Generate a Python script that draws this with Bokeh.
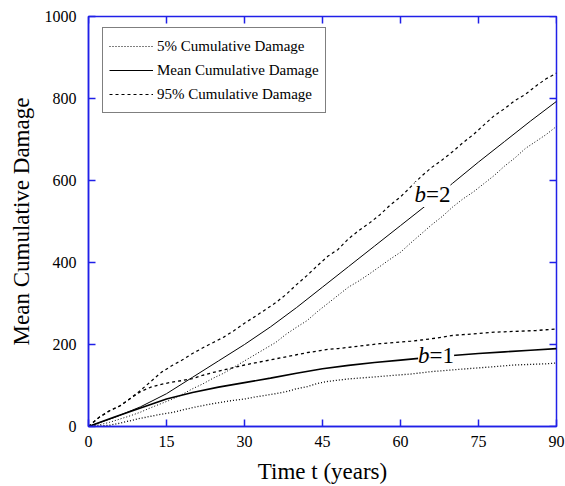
from bokeh.plotting import figure
from bokeh.models import FixedTicker, Range1d, Legend, LegendItem, Label
from bokeh.embed import file_html
from bokeh.resources import INLINE

# ---------------- data ----------------
t_grid = [0, 2, 4, 6, 8, 10, 12, 14, 16, 18, 20, 22, 24, 26, 28, 30, 32, 34, 36, 38,
          40, 42, 44, 46, 48, 50, 52, 54, 56, 58, 60, 62, 64, 66, 68, 70, 72, 74, 76, 78,
          80, 82, 84, 86, 88, 90]
mean_t = [0, 5, 10, 15, 20, 25, 30, 35, 40, 45, 50, 55, 60, 65, 70, 75, 80, 85, 90]

b2_mean = [0, 22, 48, 80, 120, 160, 200, 243, 290, 340, 390, 440, 490, 540, 593, 645, 695, 745, 793]
b2_p95 = [0, 22, 38, 50, 68, 88, 110, 132, 148, 162, 178, 192, 205, 218, 234, 252, 268, 285, 302, 322,
          346, 368, 392, 415, 432, 458, 478, 496, 516, 540, 560, 585, 610, 632, 650, 670, 692, 712, 735, 758,
          775, 795, 810, 830, 848, 862]
b2_p05 = [0, 4, 10, 18, 26, 35, 46, 56, 66, 78, 92, 104, 118, 130, 145, 160, 175, 190, 205, 225,
          242, 258, 280, 300, 320, 340, 355, 372, 390, 408, 425, 448, 470, 492, 512, 535, 555, 572, 592, 612,
          635, 655, 678, 695, 712, 732]

b1_mean = [0, 23, 45, 67, 83, 96, 107, 118, 130, 141, 149, 156, 162, 168, 173, 178, 182, 186, 190]
b1_p95 = [0, 22, 38, 50, 68, 85, 96, 103, 108, 112, 117, 125, 132, 138, 144, 150, 155, 160, 165, 170,
          175, 180, 184, 188, 190, 193, 196, 199, 202, 204, 206, 208, 211, 214, 218, 222, 224, 226, 228, 230,
          231, 232, 233, 234, 236, 238]
b1_p05 = [0, 1, 3, 8, 14, 20, 25, 30, 34, 40, 46, 51, 56, 60, 64, 67, 72, 76, 80, 85,
          92, 97, 105, 110, 113, 116, 118, 120, 122, 124, 126, 128, 131, 134, 136, 138, 140, 142, 144, 146,
          148, 150, 151, 152, 153, 155]

x_ticks = [0, 15, 30, 45, 60, 75, 90]
y_ticks = [0, 200, 400, 600, 800, 1000]
legend_labels = ["5% Cumulative Damage", "Mean Cumulative Damage", "95% Cumulative Damage"]
curve_names = ["=2", "=1"]
label_t = [64.9, 65.6]
label_v = [566, 174]

FONT = "Liberation Serif"
AXIS_BLUE = "#2020e8"
X_MAX, Y_MAX = 90, 1000
FRAME_W, FRAME_H = 468, 410
TICK_PX = 7

p = figure(width=565, height=486, x_range=Range1d(0, X_MAX), y_range=Range1d(0, Y_MAX),
           output_backend="svg", toolbar_location=None,
           min_border_left=88, min_border_right=9, min_border_top=16, min_border_bottom=60)
p.grid.visible = False
p.outline_line_color = AXIS_BLUE
p.outline_line_width = 1.5
p.background_fill_color = "white"
p.border_fill_color = "white"

for ax, ticks in ((p.xaxis[0], x_ticks), (p.yaxis[0], y_ticks)):
    ax.ticker = FixedTicker(ticks=ticks)
    ax.axis_line_color = AXIS_BLUE
    ax.axis_line_width = 1.5
    ax.major_tick_line_color = AXIS_BLUE
    ax.major_tick_line_width = 1.5
    ax.major_tick_in = TICK_PX
    ax.major_tick_out = 0
    ax.minor_tick_line_color = None
    ax.major_label_text_font = FONT
    ax.major_label_text_font_size = "16px"
    ax.major_label_text_color = "black"
    ax.axis_label_text_font = FONT
    ax.axis_label_text_font_size = "23px"
    ax.axis_label_text_font_style = "normal"
    ax.axis_label_text_color = "black"

p.xaxis[0].major_label_standoff = 9
p.xaxis[0].axis_label = "Time t (years)"
p.xaxis[0].axis_label_standoff = 9
p.yaxis[0].major_label_standoff = 12
p.yaxis[0].axis_label = "Mean Cumulative Damage"
p.yaxis[0].axis_label_standoff = 8

# inward ticks on the top and right edges of the frame
tick_dy = TICK_PX * Y_MAX / FRAME_H
tick_dx = TICK_PX * X_MAX / FRAME_W
p.segment(x0=x_ticks, y0=[Y_MAX] * len(x_ticks), x1=x_ticks, y1=[Y_MAX - tick_dy] * len(x_ticks),
          line_color=AXIS_BLUE, line_width=1.5)
p.segment(x0=[X_MAX] * len(y_ticks), y0=y_ticks, x1=[X_MAX - tick_dx] * len(y_ticks), y1=y_ticks,
          line_color=AXIS_BLUE, line_width=1.5)

# ---------------- curves ----------------
r_b2_p05 = p.line(t_grid, b2_p05, line_color="black", line_width=1, line_dash="1 2")
r_b2_mean = p.line(mean_t, b2_mean, line_color="black", line_width=1)
r_b2_p95 = p.line(t_grid, b2_p95, line_color="black", line_width=1.2, line_dash="3 3")
p.line(t_grid, b1_p05, line_color="black", line_width=1.3, line_dash="1 2")
p.line(mean_t, b1_mean, line_color="black", line_width=1.6)
p.line(t_grid, b1_p95, line_color="black", line_width=1.3, line_dash="3 3")

# ---------------- curve labels ----------------
for name, tx, vy in zip(curve_names, label_t, label_v):
    p.add_layout(Label(x=tx, y=vy, text="b", text_align="right", text_baseline="alphabetic",
                       text_font=FONT, text_font_size="23px", text_font_style="italic",
                       text_color="black", background_fill_color="white"))
    p.add_layout(Label(x=tx, y=vy, text=name, text_align="left", text_baseline="alphabetic",
                       text_font=FONT, text_font_size="23px", text_color="black",
                       background_fill_color="white"))

# ---------------- legend ----------------
legend = Legend(items=[LegendItem(label=legend_labels[0], renderers=[r_b2_p05]),
                       LegendItem(label=legend_labels[1], renderers=[r_b2_mean]),
                       LegendItem(label=legend_labels[2], renderers=[r_b2_p95])],
                location=(14, 313))
legend.label_text_font = FONT
legend.label_text_font_size = "15px"
legend.label_text_color = "black"
legend.glyph_width = 44
legend.glyph_height = 24
legend.label_height = 24
legend.label_standoff = 4
legend.padding = 6
legend.spacing = 0
legend.margin = 0
legend.border_line_color = "black"
legend.border_line_width = 1
legend.background_fill_color = "white"
legend.background_fill_alpha = 1
p.add_layout(legend, "center")

open("out.html", "w").write(file_html(p, INLINE))
